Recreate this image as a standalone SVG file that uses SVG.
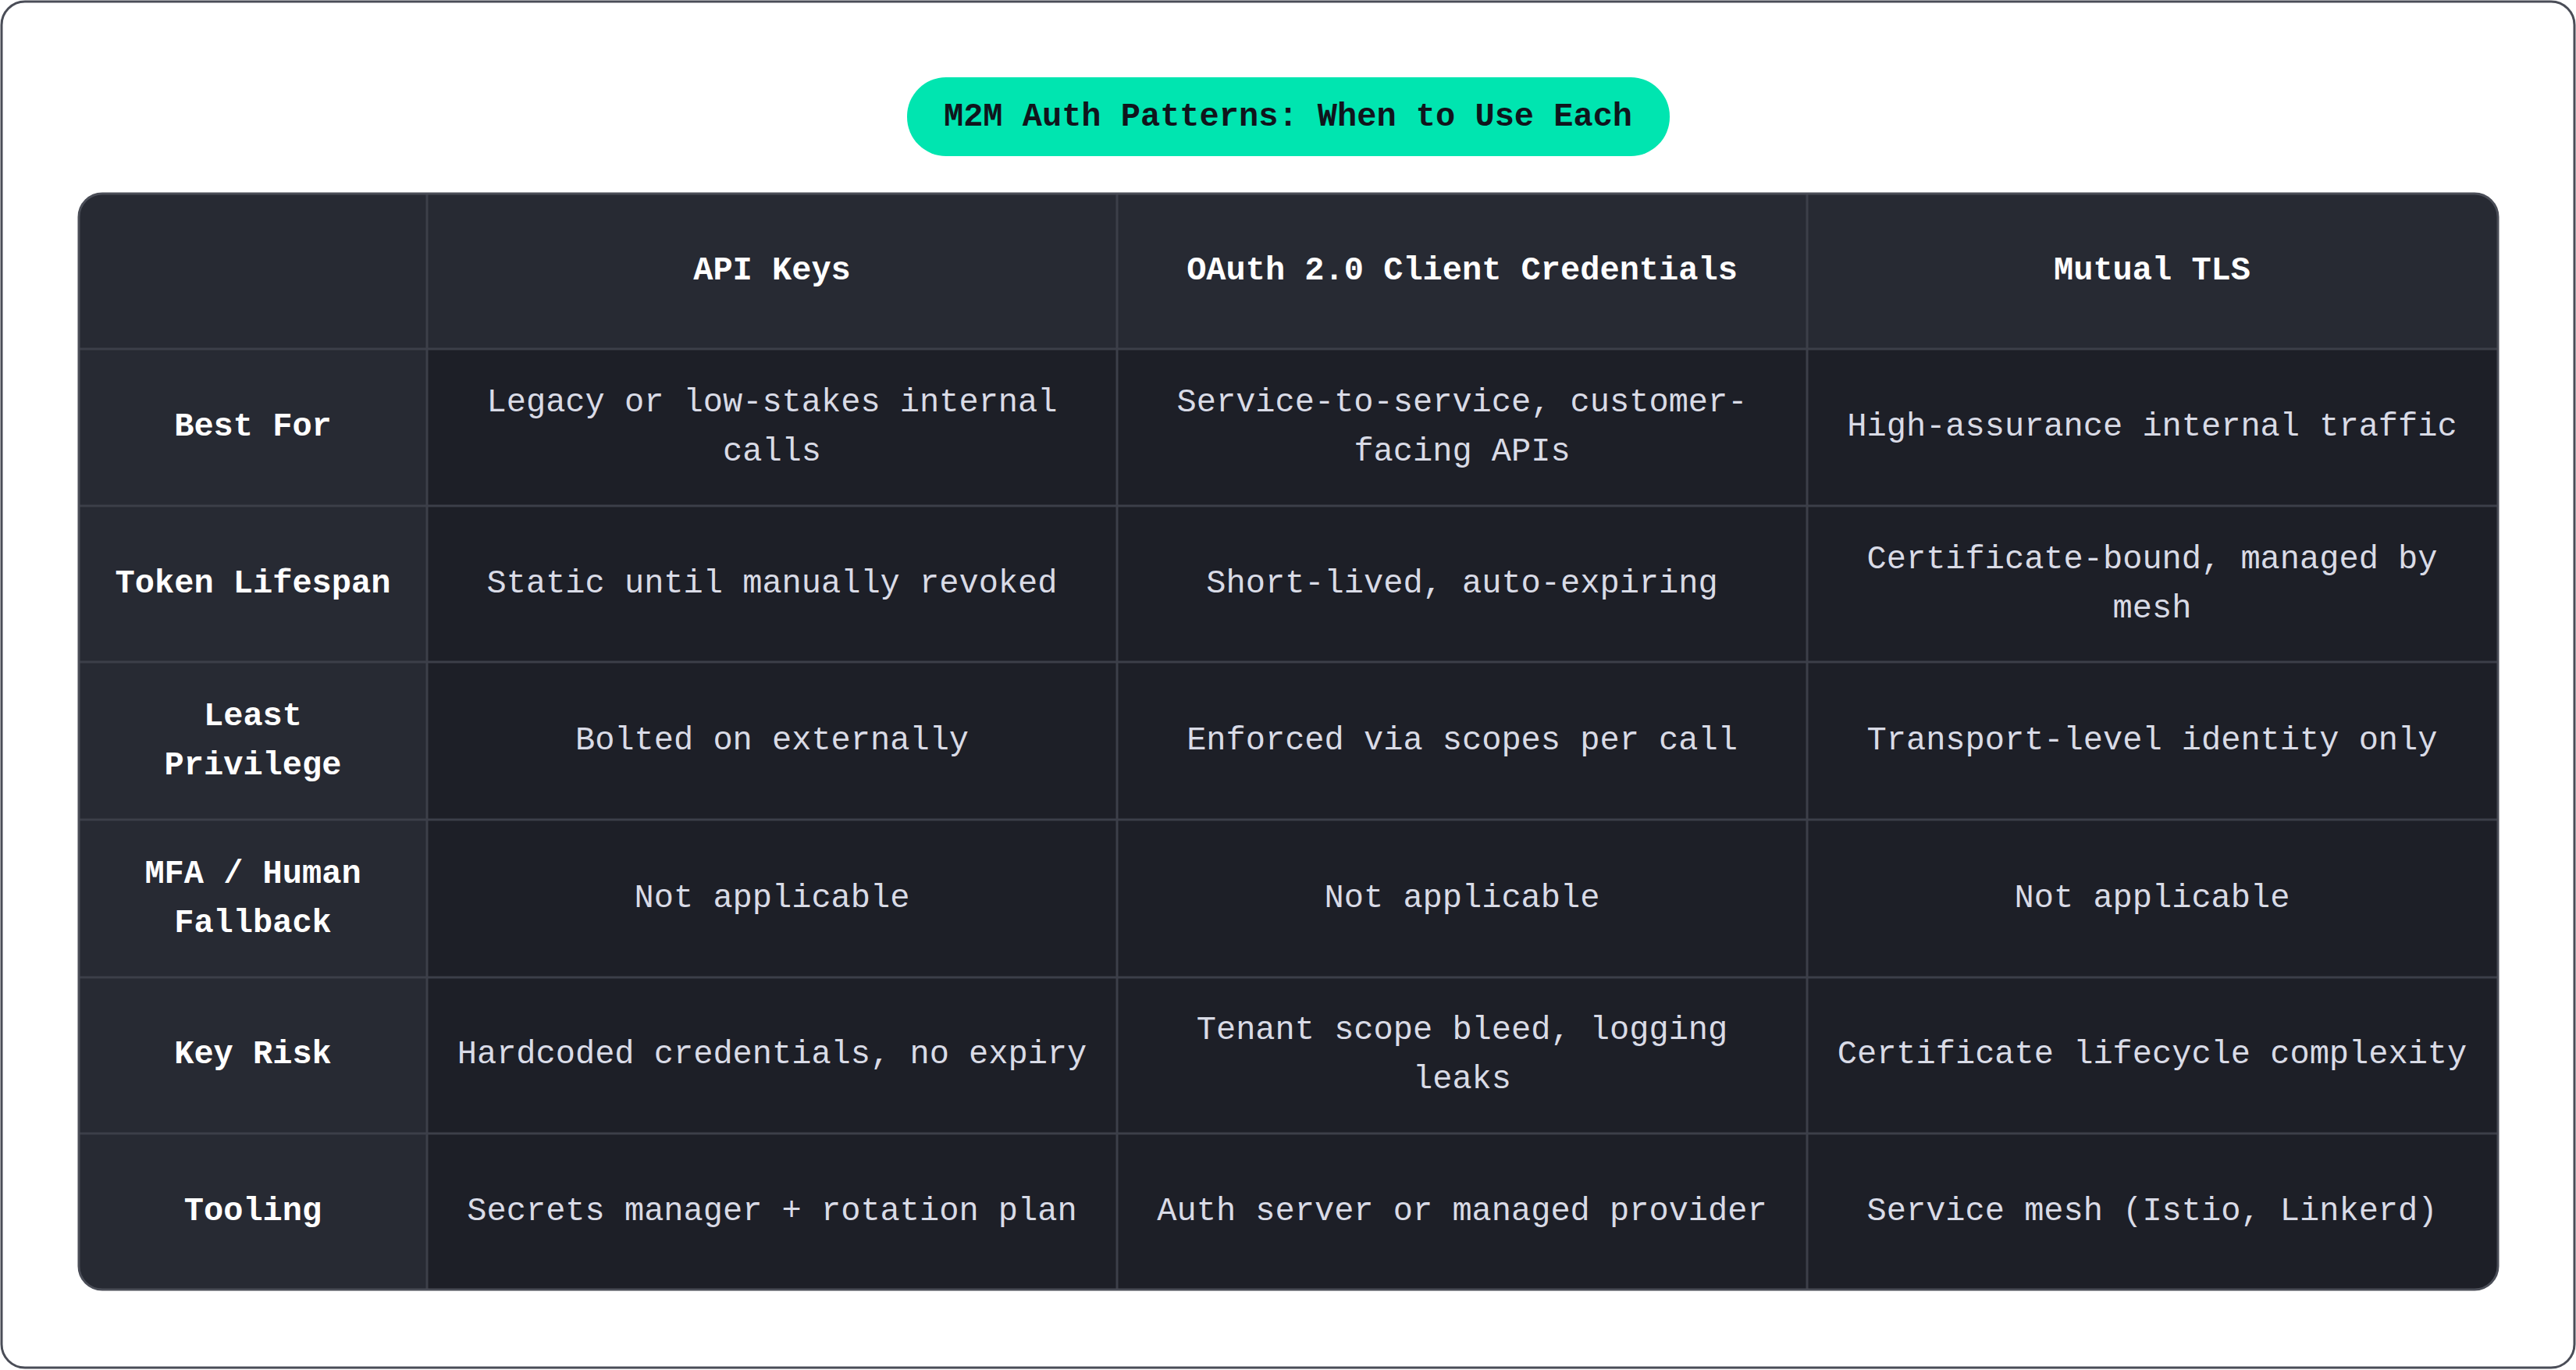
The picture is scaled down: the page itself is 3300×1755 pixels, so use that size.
<svg xmlns="http://www.w3.org/2000/svg" width="3300" height="1755" viewBox="0 0 3300 1755">
<style>
.t{font-family:"Liberation Mono","DejaVu Sans Mono",monospace;font-size:42px;text-anchor:middle;dominant-baseline:central}
.b{fill:#d9dbe6}
.h{fill:#ffffff;font-weight:bold}
.g{stroke:#3c3f49;stroke-width:3;fill:none}
</style>
<rect x="2" y="2" width="3296" height="1750" rx="30" fill="#fff" stroke="#4a4d57" stroke-width="3"/>
<g id="title">
<rect x="1162" y="99" width="977" height="101" rx="50" fill="#00e5b0"/>
<text class="t" x="1650" y="150" fill="#10151c" font-weight="bold">M2M Auth Patterns: When to Use Each</text>
</g>
<g id="table">
<clipPath id="c"><rect x="101" y="248" width="3099" height="1404" rx="30"/></clipPath>
<g clip-path="url(#c)">
<rect x="101" y="248" width="3099" height="1404" fill="#1d1f27"/>
<rect x="101" y="248" width="3099" height="199" fill="#272a33"/>
<rect x="101" y="248" width="446" height="1404" fill="#272a33"/>
<path class="g" d="M547 248V1652M1431 248V1652M2315 248V1652M101 447H3200M101 648H3200M101 848H3200M101 1050H3200M101 1252H3200M101 1452H3200"/>
</g>
<rect x="101" y="248" width="3099" height="1404" rx="30" fill="none" stroke="#4a4d57" stroke-width="3"/>
</g>
<g id="header" class="t h">
<text x="989" y="347">API Keys</text>
<text x="1873" y="347">OAuth 2.0 Client Credentials</text>
<text x="2757" y="347">Mutual TLS</text>
</g>
<g id="rowlabels" class="t h">
<text x="324" y="547">Best For</text>
<text x="324" y="748">Token Lifespan</text>
<text x="324" y="918">Least</text><text x="324" y="981">Privilege</text>
<text x="324" y="1120">MFA / Human</text><text x="324" y="1183">Fallback</text>
<text x="324" y="1351">Key Risk</text>
<text x="324" y="1552">Tooling</text>
</g>
<g id="cells" class="t b">
<text x="989" y="516">Legacy or low-stakes internal</text><text x="989" y="579">calls</text>
<text x="1873" y="516">Service-to-service, customer-</text><text x="1873" y="579">facing APIs</text>
<text x="2757" y="547">High-assurance internal traffic</text>
<text x="989" y="748">Static until manually revoked</text>
<text x="1873" y="748">Short-lived, auto-expiring</text>
<text x="2757" y="717">Certificate-bound, managed by</text><text x="2757" y="780">mesh</text>
<text x="989" y="949">Bolted on externally</text>
<text x="1873" y="949">Enforced via scopes per call</text>
<text x="2757" y="949">Transport-level identity only</text>
<text x="989" y="1151">Not applicable</text>
<text x="1873" y="1151">Not applicable</text>
<text x="2757" y="1151">Not applicable</text>
<text x="989" y="1351">Hardcoded credentials, no expiry</text>
<text x="1873" y="1320">Tenant scope bleed, logging</text><text x="1873" y="1383">leaks</text>
<text x="2757" y="1351">Certificate lifecycle complexity</text>
<text x="989" y="1552">Secrets manager + rotation plan</text>
<text x="1873" y="1552">Auth server or managed provider</text>
<text x="2757" y="1552">Service mesh (Istio, Linkerd)</text>
</g>
</svg>
